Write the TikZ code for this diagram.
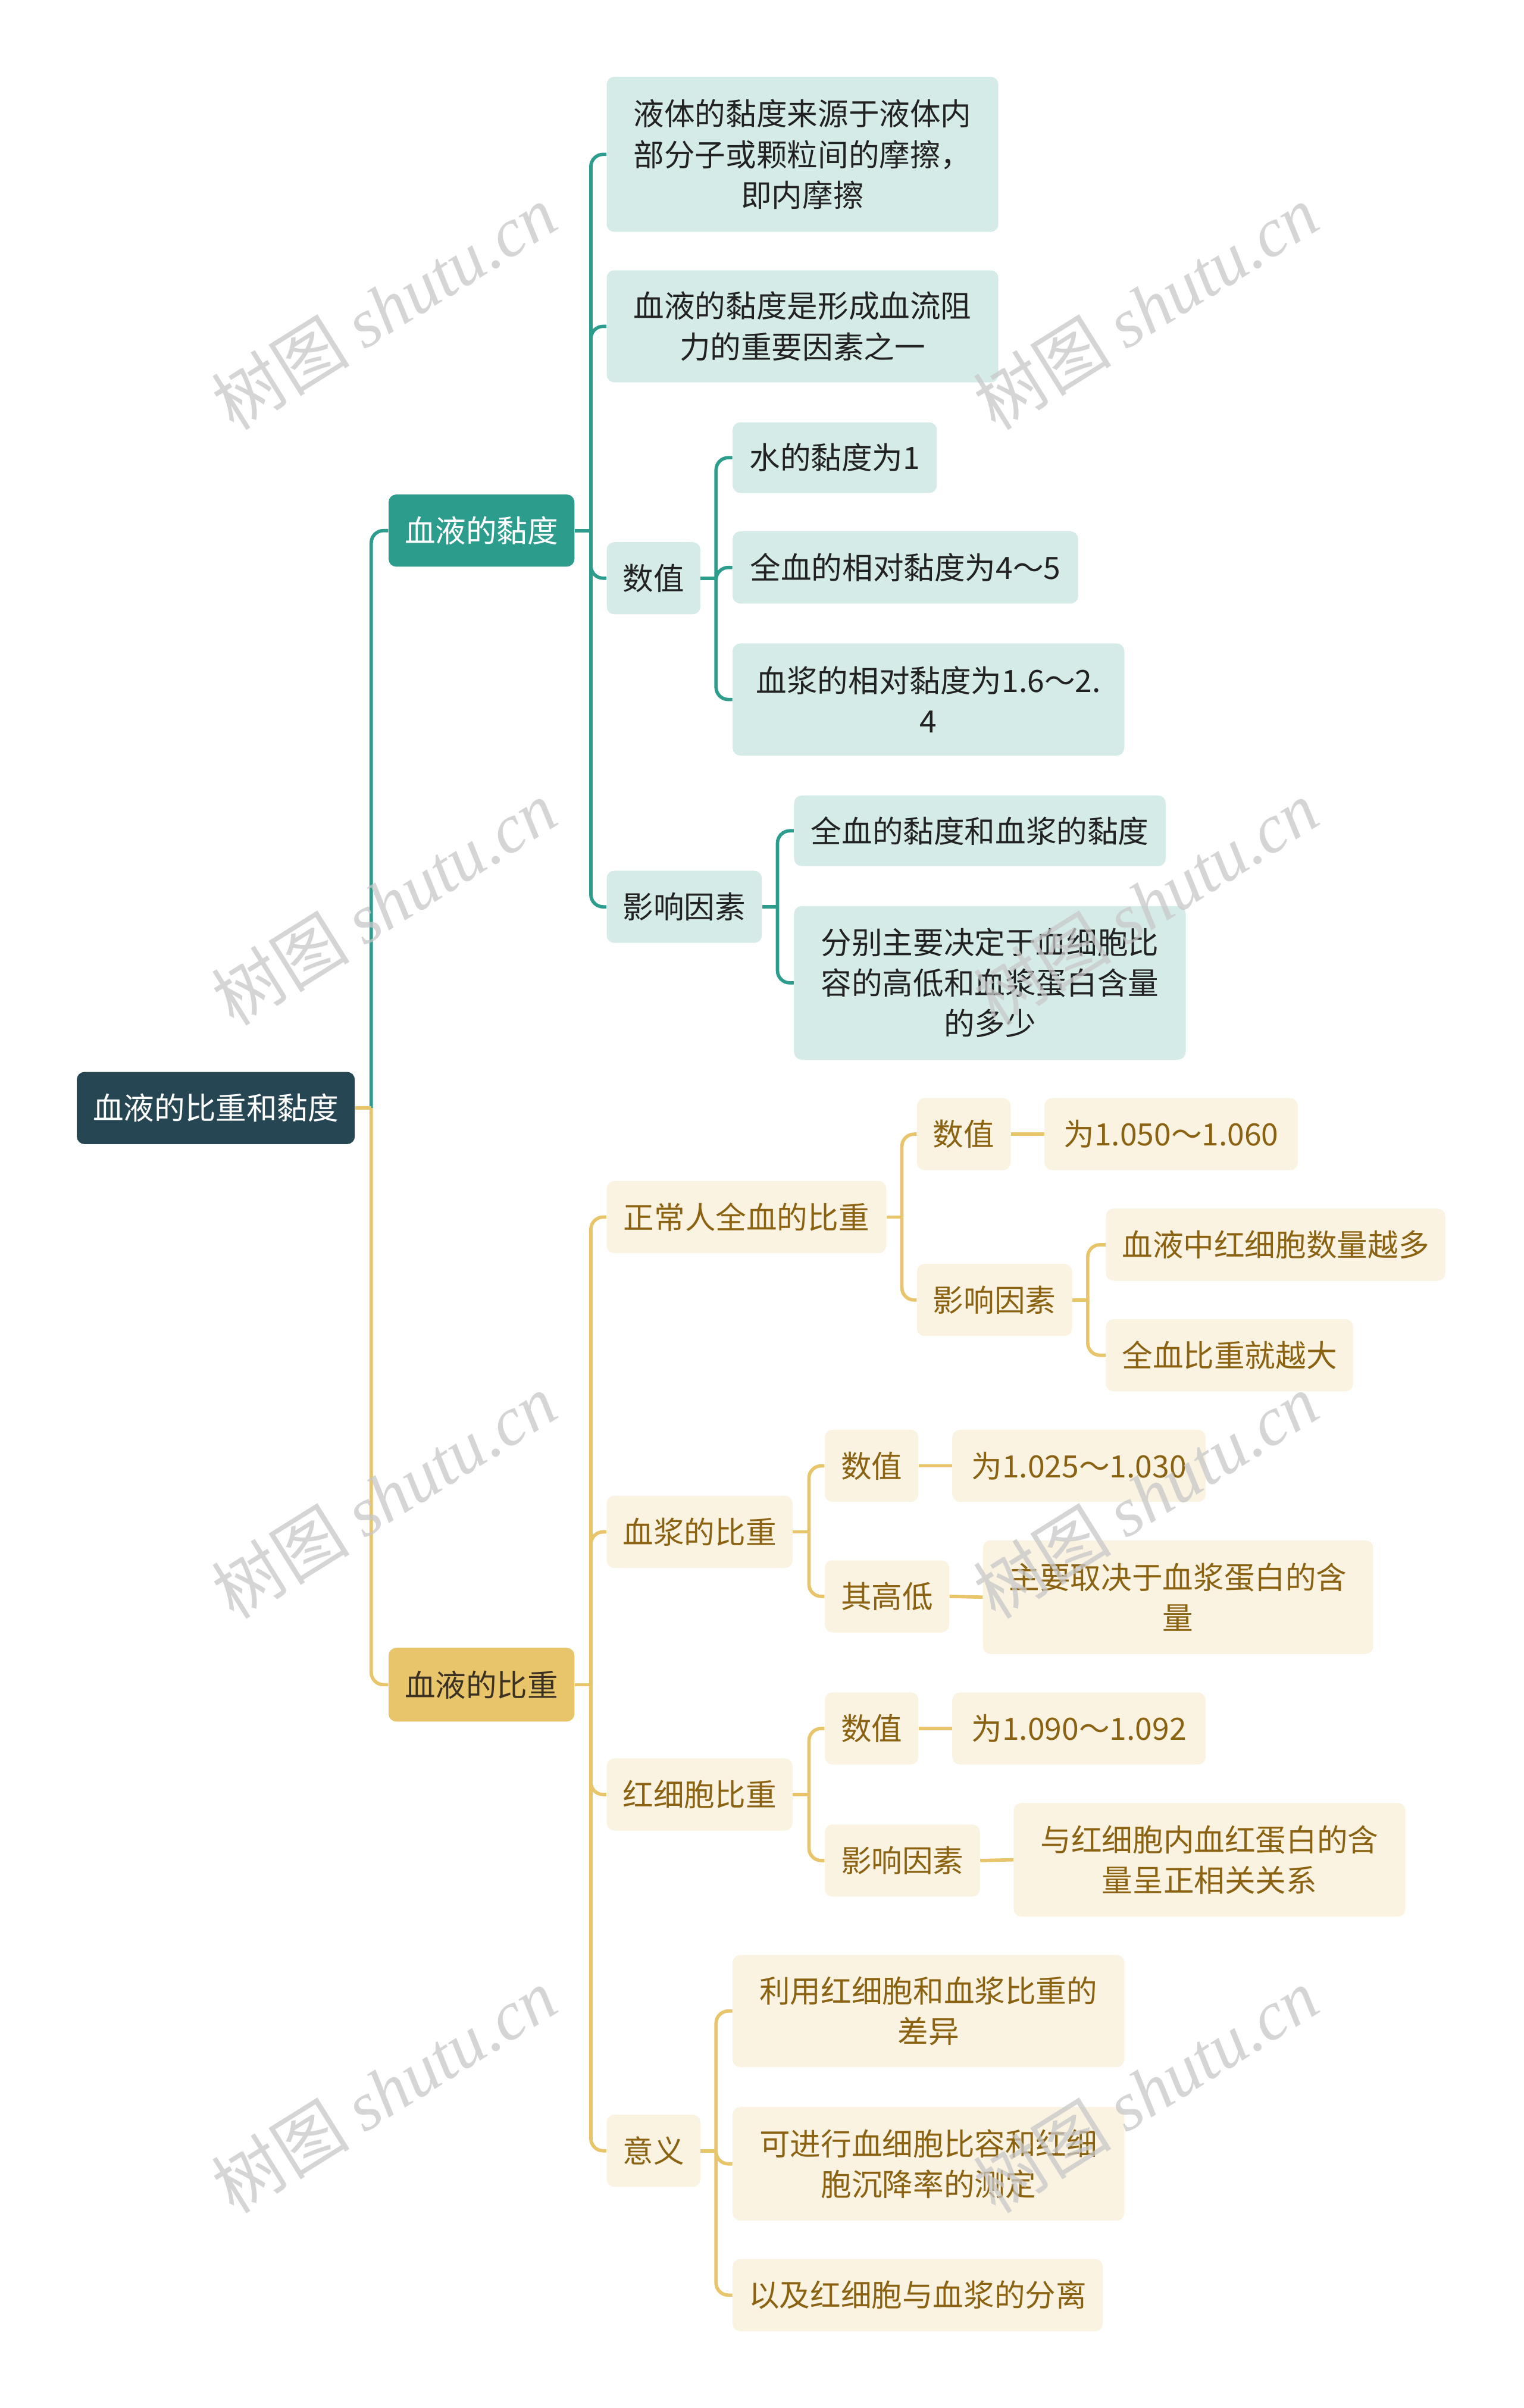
\documentclass[tikz,border=0pt]{standalone}
\usepackage{fontspec}
\setmainfont{Noto Sans CJK SC}
\newfontfamily\wmlat{Liberation Serif}
\definecolor{tealA}{HTML}{2C9C8D}
\definecolor{tealL}{HTML}{D5EBE8}
\definecolor{rootC}{HTML}{274653}
\definecolor{yelA}{HTML}{E8C46A}
\definecolor{creamL}{HTML}{FBF3E1}
\definecolor{brownT}{HTML}{8A6211}
\definecolor{darkT}{HTML}{222222}
\definecolor{darkY}{HTML}{3A3123}
\definecolor{wmC}{HTML}{C8C8C8}
\begin{document}
\begin{tikzpicture}[x=1pt,y=-1pt,
  box/.style={rounded corners=5, inner sep=0pt, align=center, font=\fontsize{20}{26.5}\selectfont},
  sz/.style 2 args={minimum width=#1, minimum height=#2},
  rootbox/.style={box, fill=rootC, text=white},
  tealbox/.style={box, fill=tealA, text=white},
  yelbox/.style={box, fill=yelA, text=darkY},
  tl/.style={box, fill=tealL, text=darkT},
  cr/.style={box, fill=creamL, text=brownT},
  tline/.style={draw=tealA, line width=2.2, rounded corners=8},
  yline/.style={draw=yelA, line width=2.2, rounded corners=8},
  wm/.style={text=wmC, opacity=0.75, font=\fontsize{45}{50}\selectfont, inner sep=0pt}
]
\useasboundingbox (0,0) rectangle (992,1568);
\fill[white] (0,0) rectangle (992,1568);

% nodes
\node[rootbox, sz={181}{47}] (root) at (140.5,721.5) {血液的比重和黏度};
\node[tealbox, sz={121}{47}] (A) at (313.5,345.5) {血液的黏度};
\node[yelbox, sz={121}{48}] (B) at (313.5,1097) {血液的比重};

\node[tl, sz={255}{101}] (a1) at (522.5,100.5) {液体的黏度来源于液体内\\部分子或颗粒间的摩擦，\\即内摩擦};
\node[tl, sz={255}{73}] (a2) at (522.5,212.5) {血液的黏度是形成血流阻\\力的重要因素之一};
\node[tl, sz={61}{47}] (a3) at (425.5,376.5) {数值};
\node[tl, sz={101}{47}] (a4) at (445.5,590.5) {影响因素};
\node[tl, sz={133}{46}] (a31) at (543.5,298) {水的黏度为1};
\node[tl, sz={225}{47}] (a32) at (589.5,369.5) {全血的相对黏度为4～5};
\node[tl, sz={255}{73}] (a33) at (604.5,455.5) {血浆的相对黏度为1.6～2.\\4};
\node[tl, sz={242}{46}] (a41) at (638,541) {全血的黏度和血浆的黏度};
\node[tl, sz={255}{100}] (a42) at (644.5,640) {分别主要决定于血细胞比\\容的高低和血浆蛋白含量\\的多少};

\node[cr, sz={182}{47}] (b1) at (486,792.5) {正常人全血的比重};
\node[cr, sz={121}{47}] (b2) at (455.5,997.5) {血浆的比重};
\node[cr, sz={121}{47}] (b3) at (455.5,1168.5) {红细胞比重};
\node[cr, sz={61}{47}] (b4) at (425.5,1400.5) {意义};

\node[cr, sz={61}{47}] (b11) at (627.5,738.5) {数值};
\node[cr, sz={165}{47}] (b12) at (762.5,738.5) {为1.050～1.060};
\node[cr, sz={101}{47}] (b13) at (647.5,846.5) {影响因素};
\node[cr, sz={221}{47}] (b131) at (830.5,810.5) {血液中红细胞数量越多};
\node[cr, sz={161}{47}] (b132) at (800.5,882.5) {全血比重就越大};

\node[cr, sz={61}{47}] (b21) at (567.5,954.5) {数值};
\node[cr, sz={165}{47}] (b22) at (702.5,954.5) {为1.025～1.030};
\node[cr, sz={81}{47}] (b23) at (577.5,1039.5) {其高低};
\node[cr, sz={254}{74}] (b24) at (767,1040) {主要取决于血浆蛋白的含\\量};

\node[cr, sz={61}{47}] (b31) at (567.5,1125.5) {数值};
\node[cr, sz={165}{47}] (b32) at (702.5,1125.5) {为1.090～1.092};
\node[cr, sz={101}{47}] (b33) at (587.5,1211.5) {影响因素};
\node[cr, sz={255}{74}] (b34) at (787.5,1211) {与红细胞内血红蛋白的含\\量呈正相关关系};

\node[cr, sz={255}{73}] (b41) at (604.5,1309.5) {利用红细胞和血浆比重的\\差异};
\node[cr, sz={255}{74}] (b42) at (604.5,1409) {可进行血细胞比容和红细\\胞沉降率的测定};
\node[cr, sz={241}{47}] (b43) at (597.5,1494.5) {以及红细胞与血浆的分离};

% junction coordinates
\coordinate (rj) at ([xshift=10.5pt]root.east);
\coordinate (Aj) at ([xshift=10.5pt]A.east);
\coordinate (Bj) at ([xshift=10.5pt]B.east);
\coordinate (a3j) at ([xshift=10pt]a3.east);
\coordinate (a4j) at ([xshift=10pt]a4.east);
\coordinate (b1j) at ([xshift=10pt]b1.east);
\coordinate (b13j) at ([xshift=10pt]b13.east);
\coordinate (b2j) at ([xshift=10.5pt]b2.east);
\coordinate (b3j) at ([xshift=10.5pt]b3.east);
\coordinate (b4j) at ([xshift=10pt]b4.east);

% teal connectors
\draw[tline] (A.west) -| (rj);
\draw[tline] (A.east) -- (Aj);
\foreach \c in {a1,a2,a3,a4} \draw[tline] (\c.west) -| (Aj);
\draw[tline] (a3.east) -- (a3j);
\foreach \c in {a31,a32,a33} \draw[tline] (\c.west) -| (a3j);
\draw[tline] (a4.east) -- (a4j);
\foreach \c in {a41,a42} \draw[tline] (\c.west) -| (a4j);

% yellow connectors
\draw[yline] (B.west) -| (rj);
\draw[yline] (root.east) -- (rj);
\draw[yline] (B.east) -- (Bj);
\foreach \c in {b1,b2,b3,b4} \draw[yline] (\c.west) -| (Bj);
\draw[yline] (b1.east) -- (b1j);
\foreach \c in {b11,b13} \draw[yline] (\c.west) -| (b1j);
\draw[yline] (b11.east) -- (b12.west);
\draw[yline] (b13.east) -- (b13j);
\foreach \c in {b131,b132} \draw[yline] (\c.west) -| (b13j);
\draw[yline] (b2.east) -- (b2j);
\foreach \c in {b21,b23} \draw[yline] (\c.west) -| (b2j);
\draw[yline] (b21.east) -- (b22.west);
\draw[yline] (b23.east) -- (b24.west);
\draw[yline] (b3.east) -- (b3j);
\foreach \c in {b31,b33} \draw[yline] (\c.west) -| (b3j);
\draw[yline] (b31.east) -- (b32.west);
\draw[yline] (b33.east) -- (b34.west);
\draw[yline] (b4.east) -- (b4j);
\foreach \c in {b41,b42,b43} \draw[yline] (\c.west) -| (b4j);

% watermarks
\foreach \wx/\wy [count=\i] in {250/200,746/200,250/588,746/588,250/974,746/974,250/1361,746/1361}
  \node[wm, rotate=32] (wm\i) at (\wx,\wy) {树图 {\wmlat\itshape shutu.cn}};
\end{tikzpicture}
\end{document}
